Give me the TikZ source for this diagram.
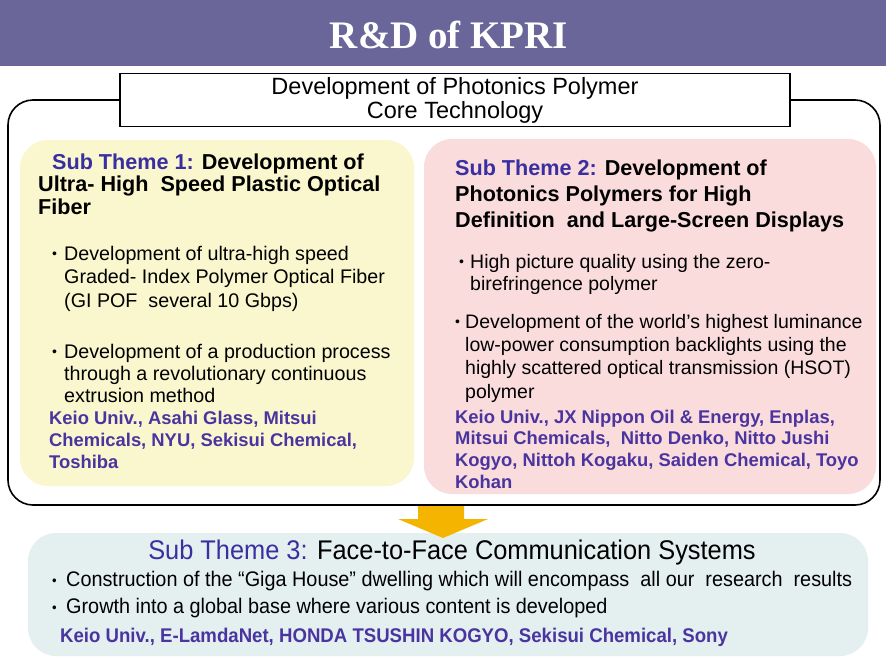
\documentclass[tikz,border=0pt]{standalone}
\usepackage{fontspec}
\setmainfont{Liberation Sans}
\newfontfamily\titlefont{Liberation Serif}
\newfontfamily\narrowfont[FakeStretch=0.94]{Liberation Sans}
\definecolor{barpurple}{HTML}{6B6699}
\definecolor{themeblue}{HTML}{3A2FA0}
\definecolor{compblue}{HTML}{4A35A0}
\definecolor{yellowfill}{HTML}{FAF7CE}
\definecolor{pinkfill}{HTML}{FADCDC}
\definecolor{bluefill}{HTML}{E4EFF0}
\definecolor{arrowyellow}{HTML}{F4B400}
\newcommand{\smbul}{\makebox[7pt][l]{\raisebox{1.5pt}{\fontsize{14}{14}\selectfont\textbullet}}}
\tikzset{
  txt/.style={anchor=base west, align=left, inner sep=0pt},
  themehead/.style={txt, font=\fontsize{21.6}{22.5}\selectfont\bfseries},
  bullettxt/.style={txt, font=\fontsize{19.7}{23.5}\selectfont},
  comptxt/.style={txt, text=compblue, font=\fontsize{18.4}{21.6}\selectfont\bfseries},
  panel/.style={rounded corners=28pt, draw=none}
}
\begin{document}
\begin{tikzpicture}[x=1pt,y=-1pt]
\useasboundingbox (0,0) rectangle (886,659);
\fill[white] (0,0) rectangle (886,659);
% title bar
\fill[barpurple] (0,0) rectangle (886,66);
\node[text=white, font=\titlefont\fontsize{39}{40}\selectfont\bfseries] (title) at (449,35) {R\&D of KPRI};
% outer frame
\draw[line width=1.6pt, rounded corners=25pt] (8,100) rectangle (880,505);
% header box
\node[draw, line width=1.2pt, fill=white, minimum width=670pt, minimum height=48pt, align=center,
  font=\fontsize{23.5}{24}\selectfont] (core) at (455,100) {Development of Photonics Polymer\\Core Technology};
% panels
\fill[panel, fill=yellowfill] (20,140) rectangle (414,486);
\fill[panel, fill=pinkfill] (424,139) rectangle (876,494);
\fill[panel, fill=bluefill] (28,533) rectangle (868,656);
% arrow
\fill[arrowyellow] (418,506) -- (464,506) -- (464,519) -- (488,519) -- (443,538) -- (398,519) -- (418,519) -- cycle;
% Sub theme 1 (anchors are at the baseline of the last line)
\node[themehead] (t1) at (38,214) {\hspace{14pt}{\color{themeblue}Sub Theme 1:} Development of\\Ultra- High\ \ Speed Plastic Optical\\Fiber};
\node[bullettxt] (b1a) at (52,307) {\smbul\hspace{5pt}Development of ultra-high speed\\\hspace{12pt}Graded- Index Polymer Optical Fiber\\\hspace{12pt}(GI POF\ \ several 10 Gbps)};
\node[bullettxt, font=\fontsize{19.7}{22}\selectfont] (b1b) at (52,402) {\smbul\hspace{5pt}Development of a production process\\\hspace{12pt}through a revolutionary continuous\\\hspace{12pt}extrusion method};
\node[comptxt] (c1) at (49,468) {Keio Univ., Asahi Glass, Mitsui\\Chemicals, NYU, Sekisui Chemical,\\Toshiba};
% Sub theme 2
\node[themehead, font=\fontsize{21.6}{26}\selectfont\bfseries] (t2) at (455,227) {{\color{themeblue}Sub Theme 2:} Development of\\Photonics Polymers for High\\Definition\ \ and Large-Screen Displays};
\node[bullettxt, font=\fontsize{19.5}{22}\selectfont] (b2a) at (459,290) {\smbul\hspace{4pt}High picture quality using the zero-\\\hspace{11pt}birefringence polymer};
\node[bullettxt, font=\fontsize{19.5}{23.3}\selectfont] (b2b) at (455,398) {\smbul\hspace{3pt}Development of the world's highest luminance\\\hspace{10pt}low-power consumption backlights using the\\\hspace{10pt}highly scattered optical transmission (HSOT)\\\hspace{10pt}polymer};
\node[comptxt] (c2) at (455,488) {Keio Univ., JX Nippon Oil \& Energy, Enplas,\\Mitsui Chemicals,\ \ Nitto Denko, Nitto Jushi\\Kogyo,\ Nittoh Kogaku, Saiden Chemical, Toyo\\Kohan};
% Sub theme 3
\node[anchor=base, inner sep=0pt, font=\narrowfont\fontsize{27}{28}\selectfont] (t3) at (452,559) {{\color{themeblue}Sub Theme 3:} Face-to-Face Communication Systems};
\node[txt, font=\narrowfont\fontsize{21.1}{22}\selectfont] (b3a) at (52,586.5) {\smbul\hspace{7pt}Construction of the “Giga House” dwelling which will encompass\ \ all our\ \ research\ \ results};
\node[txt, font=\narrowfont\fontsize{21.1}{22}\selectfont] (b3b) at (52,613.5) {\smbul\hspace{7pt}Growth into a global base where various content is developed};
\node[txt, text=compblue, font=\narrowfont\fontsize{19.8}{22}\selectfont\bfseries] (c3) at (60,642.5) {Keio Univ., E-LamdaNet, HONDA TSUSHIN KOGYO, Sekisui Chemical, Sony};
\end{tikzpicture}
\end{document}
